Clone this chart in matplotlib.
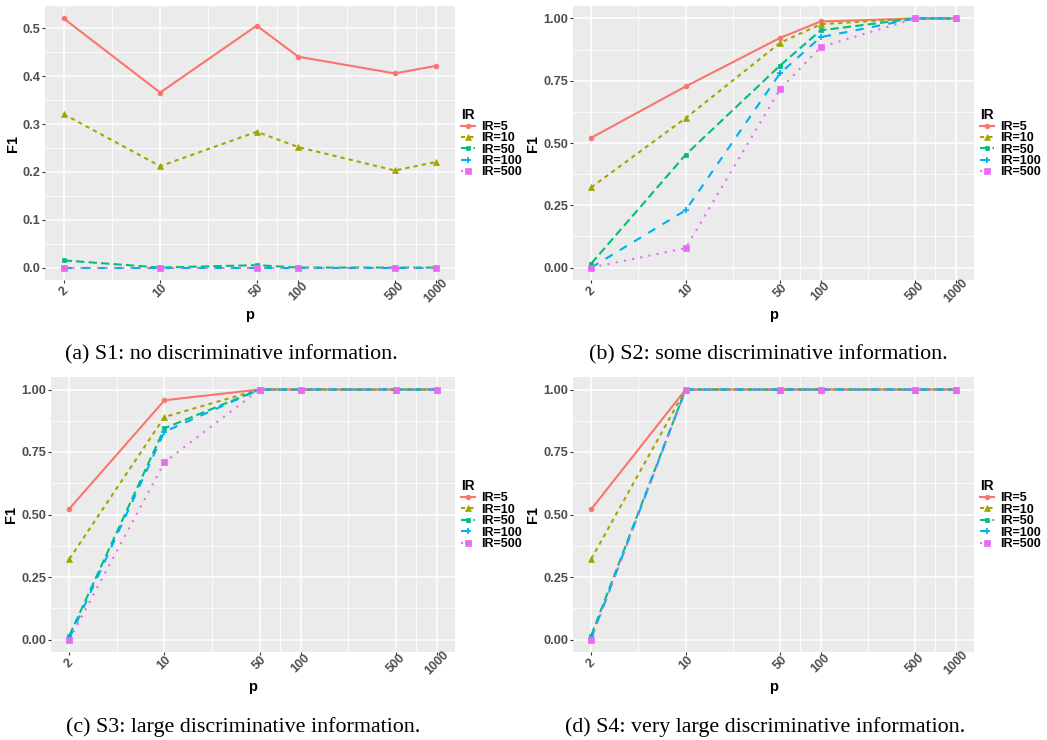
import numpy as np
import matplotlib
matplotlib.use("Agg")
import matplotlib.pyplot as plt

# ============================================
# DATA
# ============================================

p_values = [2, 10, 50, 100, 500, 1000]
ir_labels = ["IR=5", "IR=10", "IR=50", "IR=100", "IR=500"]

s1 = [
    [0.521, 0.366, 0.506, 0.441, 0.406, 0.422],
    [0.321, 0.212, 0.284, 0.252, 0.203, 0.221],
    [0.015, 0.000, 0.005, 0.000, 0.000, 0.000],
    [0.000, 0.000, 0.000, 0.000, 0.000, 0.000],
    [0.000, 0.000, 0.000, 0.000, 0.000, 0.000],
]
s2 = [
    [0.521, 0.727, 0.922, 0.988, 1.000, 1.000],
    [0.322, 0.600, 0.902, 0.977, 1.000, 1.000],
    [0.016, 0.453, 0.811, 0.952, 1.000, 1.000],
    [0.000, 0.230, 0.780, 0.925, 1.000, 1.000],
    [0.000, 0.078, 0.716, 0.885, 1.000, 1.000],
]
s3 = [
    [0.523, 0.957, 1.000, 1.000, 1.000, 1.000],
    [0.322, 0.890, 1.000, 1.000, 1.000, 1.000],
    [0.016, 0.845, 1.000, 1.000, 1.000, 1.000],
    [0.005, 0.831, 1.000, 1.000, 1.000, 1.000],
    [0.000, 0.709, 1.000, 1.000, 1.000, 1.000],
]
s4 = [
    [0.521, 1.000, 1.000, 1.000, 1.000, 1.000],
    [0.322, 1.000, 1.000, 1.000, 1.000, 1.000],
    [0.016, 1.000, 1.000, 1.000, 1.000, 1.000],
    [0.005, 1.000, 1.000, 1.000, 1.000, 1.000],
    [0.000, 1.000, 1.000, 1.000, 1.000, 1.000],
]

captions = [
    "(a) S1: no discriminative information.",
    "(b) S2: some discriminative information.",
    "(c) S3: large discriminative information.",
    "(d) S4: very large discriminative information.",
]

# ============================================
# STYLE (ggplot2 look)
# ============================================

colors = ["#F8766D", "#A3A500", "#00BF7D", "#00B0F6", "#E76BF3"]
dashes = [None, (2, 2), (4, 2), (4, 4), (1, 3)]
markers = ["o", "^", "s", "+", "s"]
msizes = [3.5, 4, 3.5, 5, 4.5]

plt.rcParams["font.family"] = "Liberation Sans"

fig = plt.figure(figsize=(10.47, 7.40), dpi=100)

W, H = 1047.0, 740.0
# left, top, right, bottom in pixels
boxes = [
    (45, 6, 455, 280),
    (573, 6, 974, 280),
    (51, 377, 455, 652),
    (573, 377, 974, 652),
]
caption_pos = [(231, 355), (768, 355), (243, 727), (765, 727)]

panels = [s1, s2, s3, s4]
yticks_all = [
    [0.0, 0.1, 0.2, 0.3, 0.4, 0.5],
    [0.0, 0.25, 0.5, 0.75, 1.0],
    [0.0, 0.25, 0.5, 0.75, 1.0],
    [0.0, 0.25, 0.5, 0.75, 1.0],
]
yfmt = ["%.1f", "%.2f", "%.2f", "%.2f"]

logp = np.log10(p_values)
xpad = 0.05 * (logp[-1] - logp[0])
xminor = [10 ** ((logp[i] + logp[i + 1]) / 2) for i in range(len(logp) - 1)]

for k, data in enumerate(panels):
    l, t, r, b = boxes[k]
    ax = fig.add_axes([l / W, 1 - b / H, (r - l) / W, (b - t) / H])
    ax.set_facecolor("#EBEBEB")
    for s in ax.spines.values():
        s.set_visible(False)

    ax.set_xscale("log")
    ax.set_xlim(10 ** (logp[0] - xpad), 10 ** (logp[-1] + xpad))
    ymax = max(max(row) for row in data)
    ax.set_ylim(-0.05 * ymax, ymax * 1.05)

    yt = yticks_all[k]
    step = yt[1] - yt[0]
    yminor = [v + step / 2 for v in yt if v + step / 2 < ymax * 1.05]

    ax.set_xticks(p_values)
    ax.set_xticklabels([str(v) for v in p_values], rotation=45,
                       fontsize=9, fontweight="bold", color="#4D4D4D",
                       ha="center", va="center")
    ax.set_xticks(xminor, minor=True)
    ax.set_yticks(yt)
    ax.set_yticklabels([yfmt[k] % v for v in yt], fontsize=9.2,
                       fontweight="bold", color="#4D4D4D")
    ax.set_yticks(yminor, minor=True)
    ax.tick_params(which="major", length=2.2, width=0.8, color="#333333")
    ax.tick_params(axis="y", which="major", pad=1.2)
    ax.tick_params(axis="x", which="major", pad=6)
    ax.tick_params(which="minor", length=0)
    ax.grid(which="major", color="white", linewidth=1.1)
    ax.grid(which="minor", color="white", linewidth=0.55)
    ax.set_axisbelow(True)

    for i, row in enumerate(data):
        line, = ax.plot(p_values, row, color=colors[i], linewidth=1.5,
                        marker=markers[i], markersize=msizes[i],
                        markeredgewidth=1.3 if markers[i] == "+" else 0.5,
                        markeredgecolor=colors[i], label=ir_labels[i])
        if dashes[i] is not None:
            line.set_dashes(dashes[i])

    ax.set_xlabel("p", fontsize=10.5, fontweight="bold", labelpad=2)
    ax.set_ylabel("F1", fontsize=10.5, fontweight="bold", labelpad=2)

    leg = ax.legend(loc="center left", bbox_to_anchor=(1.0, 0.5),
                    frameon=False, title="IR", handlelength=1.1,
                    labelspacing=-0.05, handletextpad=0.5, borderaxespad=0.5,
                    borderpad=0.0,
                    prop={"weight": "bold", "size": 9})
    leg.get_title().set_fontweight("bold")
    leg.get_title().set_fontsize(9.8)
    leg._legend_box.align = "left"

    cx, cy = caption_pos[k]
    fig.text(cx / W, 1 - cy / H, captions[k], ha="center", va="center",
             fontsize=15.8, family="Liberation Serif")

fig.savefig("out.png", dpi=100)
